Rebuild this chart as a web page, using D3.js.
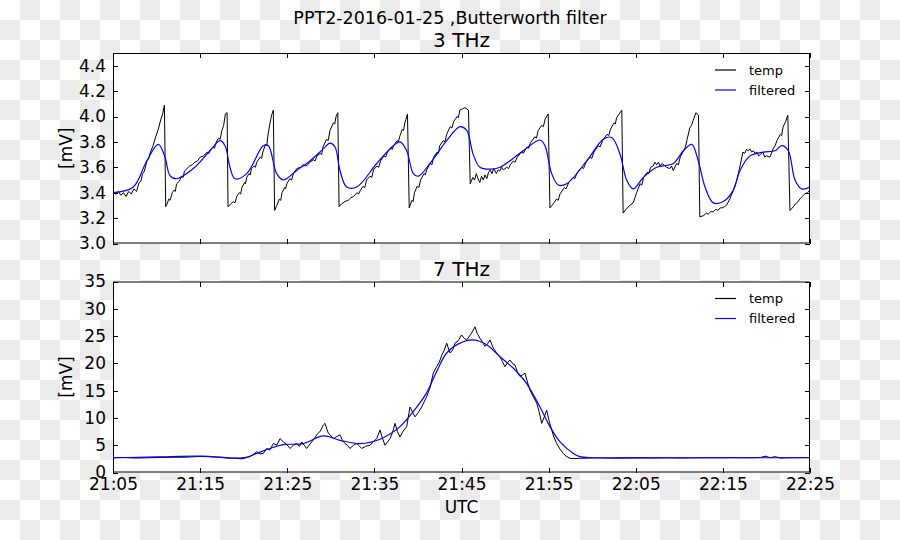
<!DOCTYPE html>
<html lang="en">
<head>
<meta charset="utf-8">
<title>PPT2 Butterworth</title>
<script src="https://cdnjs.cloudflare.com/ajax/libs/d3/7.8.5/d3.min.js"></script>
<style>
body { margin: 0; }
svg { display: block; font-family: "DejaVu Sans", sans-serif; }
.axis text { font-size: 17px; fill: #000; font-family: "DejaVu Sans", sans-serif; }
.axis line { stroke: #000; shape-rendering: crispEdges; }
</style>
</head>
<body>
<script>
var w = 900, h = 540;

// x tick labels (UTC), y ticks per panel
var xTickLabels = ["21:05", "21:15", "21:25", "21:35", "21:45", "21:55", "22:05", "22:15", "22:25"];
var yTicksTop = [3.0, 3.2, 3.4, 3.6, 3.8, 4.0, 4.2, 4.4];
var yTicksBottom = [0, 5, 10, 15, 20, 25, 30, 35];

// time in minutes after 21:00 UTC, value in mV
var temp3 = [
 [5.0,3.40],[5.3,3.39],[5.6,3.41],[5.9,3.38],[6.2,3.40],[6.5,3.37],[6.8,3.41],[7.1,3.39],[7.4,3.43],[7.7,3.41],
 [8.0,3.48],[8.2,3.49],[8.4,3.55],[8.6,3.57],[8.9,3.65],[9.1,3.67],[9.3,3.72],[9.6,3.77],[9.9,3.84],[10.2,3.90],
 [10.5,3.98],[10.7,4.02],[10.9,4.09],[11.05,3.29],[11.2,3.31],[11.4,3.35],[11.55,3.34],[11.8,3.40],[12.0,3.42],[12.15,3.41],
 [12.3,3.47],[12.6,3.49],[12.9,3.53],[13.05,3.52],[13.2,3.57],[13.5,3.59],[13.8,3.61],[14.1,3.62],[14.4,3.64],[14.7,3.65],
 [15.0,3.68],[15.4,3.69],[15.8,3.72],[16.0,3.71],[16.2,3.74],[16.5,3.76],[16.65,3.75],[16.8,3.79],[17.1,3.83],[17.3,3.82],
 [17.5,3.89],[17.7,3.93],[17.9,4.02],[18.1,4.03],[18.2,3.29],
 [18.5,3.31],[18.8,3.33],[19.0,3.32],[19.2,3.37],[19.5,3.40],[19.65,3.39],[19.8,3.44],[20.1,3.48],[20.2,3.47],[20.35,3.52],
 [20.6,3.55],[20.75,3.54],[20.9,3.59],[21.2,3.61],[21.35,3.60],[21.5,3.64],[21.9,3.68],[22.05,3.67],[22.2,3.72],[22.5,3.78],
 [22.65,3.77],[22.8,3.86],[23.0,3.94],[23.2,4.01],[23.4,4.05],[23.55,3.26],
 [23.8,3.30],[24.1,3.35],[24.25,3.34],[24.4,3.40],[24.7,3.44],[24.8,3.43],[24.95,3.47],[25.3,3.51],[25.5,3.50],[25.7,3.55],
 [26.1,3.59],[26.5,3.60],[26.8,3.62],[27.2,3.61],[27.6,3.64],[28.0,3.66],[28.2,3.65],[28.4,3.69],[28.8,3.71],[28.95,3.70],
 [29.1,3.76],[29.5,3.82],[29.7,3.81],[29.9,3.89],[30.3,3.95],[30.45,3.94],[30.6,4.00],[30.8,4.03],[30.95,3.29],
 [31.2,3.31],[31.6,3.33],[32.0,3.34],[32.3,3.36],[32.6,3.37],[33.0,3.40],[33.2,3.39],[33.4,3.42],[33.7,3.45],[33.9,3.44],
 [34.1,3.50],[34.5,3.53],[34.7,3.52],[34.9,3.58],[35.3,3.61],[35.5,3.60],[35.7,3.65],[36.1,3.69],[36.3,3.68],[36.5,3.72],
 [36.9,3.75],[37.05,3.74],[37.2,3.77],[37.6,3.81],[37.75,3.80],[37.9,3.84],[38.2,3.90],[38.35,3.89],[38.5,3.95],[38.8,4.02],
 [39.0,3.28],[39.3,3.34],[39.45,3.33],[39.6,3.40],[39.9,3.45],[40.1,3.44],[40.3,3.50],[40.7,3.55],[40.85,3.54],[41.0,3.58],
 [41.4,3.63],[41.6,3.62],[41.8,3.68],[42.2,3.72],[42.35,3.71],[42.5,3.77],[42.9,3.81],[43.1,3.80],[43.3,3.86],[43.7,3.92],
 [43.9,3.91],[44.1,3.96],[44.5,4.00],[44.65,3.99],[44.8,4.05],[45.1,4.06],[45.4,4.07],[45.8,4.05],[46.0,3.47],[46.3,3.52],
 [46.5,3.50],[46.7,3.55],[46.9,3.51],[47.1,3.48],[47.3,3.53],[47.5,3.50],[47.7,3.54],[47.9,3.51],[48.1,3.56],[48.3,3.58],
 [48.5,3.55],[48.7,3.59],[49.0,3.55],[49.2,3.58],[49.4,3.57],[49.6,3.60],[49.8,3.58],[50.2,3.60],[50.4,3.59],[50.6,3.62],
 [50.95,3.65],[51.15,3.64],[51.4,3.68],[51.9,3.72],[52.1,3.71],[52.5,3.76],[52.7,3.75],[52.9,3.79],[53.4,3.84],[53.6,3.83],
 [53.8,3.89],[54.2,3.93],[54.4,3.92],[54.6,3.98],[54.95,4.02],[55.15,3.28],
 [55.5,3.31],[55.9,3.35],[56.1,3.34],[56.3,3.39],[56.8,3.44],[57.0,3.43],[57.3,3.48],[57.8,3.52],[58.0,3.51],[58.3,3.56],
 [58.8,3.60],[59.0,3.59],[59.3,3.64],[59.75,3.68],[59.95,3.67],[60.2,3.72],[60.7,3.77],[60.9,3.76],[61.2,3.81],[61.7,3.86],
 [61.9,3.85],[62.1,3.90],[62.5,3.95],[62.65,3.94],[62.8,3.99],[63.1,4.02],[63.4,4.05],[63.55,3.24],
 [63.9,3.27],[64.3,3.30],[64.7,3.32],[64.9,3.36],[65.1,3.40],[65.5,3.47],[65.7,3.46],[65.9,3.52],[66.3,3.56],[66.5,3.55],
 [66.7,3.60],[67.0,3.61],[67.2,3.64],[67.4,3.62],[67.6,3.64],[67.8,3.61],[68.0,3.63],[68.2,3.62],[68.55,3.60],[68.9,3.59],
 [69.1,3.61],[69.3,3.575],[69.7,3.63],[69.9,3.62],[70.1,3.68],[70.5,3.73],[70.7,3.76],[70.9,3.82],[71.2,3.91],[71.4,3.93],
 [71.6,3.97],[71.9,4.03],[72.2,4.01],[72.35,3.21],
 [72.8,3.22],[73.1,3.24],[73.3,3.23],[73.6,3.25],[73.9,3.25],[74.2,3.27],[74.4,3.26],[74.7,3.28],[74.9,3.28],[75.2,3.29],
 [75.4,3.30],[75.8,3.35],[76.2,3.42],[76.6,3.50],[77.0,3.62],[77.3,3.72],[77.5,3.71],[77.7,3.74],[77.9,3.73],[78.1,3.745],
 [78.3,3.72],[78.5,3.73],[78.7,3.71],[78.9,3.72],[79.1,3.69],[79.3,3.70],[79.6,3.72],[79.8,3.68],[80.0,3.69],[80.4,3.68],
 [80.8,3.75],[81.0,3.77],[81.2,3.81],[81.6,3.86],[81.75,3.85],[81.9,3.915],[82.2,3.96],[82.45,4.01],[82.7,3.26],
 [83.1,3.29],[83.3,3.31],[83.5,3.32],[83.9,3.355],[84.1,3.37],[84.4,3.39],[84.7,3.40],[85.0,3.42]
];

var filt3 = [
 [5.0,3.40],[7.33,3.445],[8.87,3.65],[10.2,3.78],[10.97,3.68],[11.54,3.535],[12.31,3.51],[14.22,3.59],[16.13,3.73],
 [17.28,3.81],[17.86,3.77],[18.43,3.60],[19.0,3.51],[20.35,3.55],[22.25,3.77],[22.83,3.77],[23.79,3.55],[24.55,3.50],
 [26.08,3.575],[27.61,3.65],[29.14,3.745],[29.91,3.79],[30.48,3.76],[31.05,3.575],[31.82,3.445],[32.97,3.445],
 [35.27,3.63],[37.17,3.77],[37.94,3.80],[38.71,3.73],[39.47,3.55],[40.04,3.53],[41.38,3.63],[43.3,3.81],[44.83,3.92],
 [45.6,3.89],[46.35,3.70],[47.12,3.60],[48.27,3.585],[49.42,3.60],[52.09,3.73],[54.01,3.815],[54.58,3.77],[55.35,3.55],
 [56.11,3.46],[57.07,3.47],[59.37,3.65],[61.28,3.82],[62.24,3.835],[63.19,3.705],[63.96,3.50],[64.72,3.43],[65.87,3.52],
 [67.4,3.60],[69.31,3.63],[70.46,3.73],[71.42,3.78],[72.18,3.65],[72.95,3.445],[73.9,3.32],[75.05,3.33],[76.2,3.42],
 [76.97,3.575],[78.11,3.69],[79.64,3.72],[80.98,3.73],[81.75,3.77],[82.51,3.73],[83.28,3.50],[84.05,3.43],[85.0,3.445]
];

var temp7 = [
 [5.0,2.7],[6.2,2.75],[7.5,2.65],[9.0,2.7],[10.4,2.75],[11.8,2.8],[13.3,2.8],[15.0,2.95],[16.7,2.85],[18.4,2.6],
 [19.6,2.65],[20.7,2.9],[21.1,3.3],[21.5,3.8],[21.9,3.4],[22.25,3.5],[22.64,4.4],[23.0,4.1],[23.4,5.3],[23.8,5.0],
 [24.17,6.2],[24.55,5.6],[24.9,5.2],[25.32,4.4],[25.7,5.0],[26.08,5.3],[26.4,4.8],[26.66,5.6],[26.95,5.0],[27.23,4.4],
 [27.5,5.0],[27.81,5.6],[28.1,6.2],[28.38,6.9],[28.8,7.6],[29.14,8.7],[29.33,9.0],[29.71,7.2],[30.0,6.8],[30.29,6.2],
 [30.7,6.6],[31.05,6.9],[31.3,6.0],[31.63,5.3],[31.9,5.0],[32.2,4.4],[32.6,5.0],[32.97,5.3],[33.25,4.9],[33.55,4.4],
 [34.0,4.8],[34.5,5.0],[34.9,5.7],[35.27,6.2],[35.65,7.8],[35.9,6.4],[36.22,5.0],[36.5,5.6],[36.79,6.2],[37.1,7.4],
 [37.37,9.0],[37.65,7.5],[37.94,6.5],[38.3,7.6],[38.71,8.4],[39.09,12.0],[39.4,11.0],[39.66,10.2],[40.0,10.9],[40.43,12.0],
 [41.0,13.9],[41.4,15.6],[41.76,18.2],[42.15,19.4],[42.45,20.2],[42.73,21.5],[43.0,22.3],[43.3,23.7],[43.68,21.9],[44.0,22.5],
 [44.25,23.7],[44.6,24.1],[45.02,25.2],[45.3,24.6],[45.6,24.3],[46.1,25.4],[46.55,26.7],[46.8,25.5],[47.12,24.6],[47.4,23.9],
 [47.7,23.1],[48.0,23.6],[48.27,24.3],[48.65,22.8],[49.0,22.0],[49.42,21.2],[49.7,20.3],[49.99,19.4],[50.3,20.2],[50.57,20.6],
 [50.85,20.0],[51.14,19.7],[51.4,18.5],[51.71,17.6],[52.0,17.9],[52.29,18.2],[52.6,16.4],[52.86,15.1],[53.2,14.0],[53.63,12.7],
 [53.9,11.2],[54.21,9.0],[54.5,10.2],[54.78,11.4],[55.05,9.5],[55.35,7.8],[55.6,6.5],[55.93,5.3],[56.3,4.3],[56.68,3.5],
 [57.0,3.0],[57.45,2.6],[58.0,2.55],[58.6,2.6],[59.6,2.65],[60.9,2.7],[62.5,2.68],[64.0,2.72],[65.5,2.7],[67.0,2.68],
 [68.5,2.7],[70.1,2.65],[71.5,2.68],[73.0,2.7],[74.7,2.7],[76.2,2.72],[77.8,2.7],[79.3,2.75],[79.95,3.0],[80.4,2.7],
 [81.0,2.9],[81.6,2.65],[82.5,2.7],[83.5,2.72],[85.0,2.75]
];

var filt7 = [
 [5.0,2.7],[10.0,2.85],[15.0,3.0],[18.4,2.7],[20.0,2.6],[21.49,3.5],[23.0,4.4],[24.55,5.1],[26.85,5.3],[29.14,6.7],
 [31.05,5.9],[33.35,5.3],[35.65,6.1],[37.94,8.4],[39.86,12.0],[41.0,14.6],[42.15,18.5],[43.3,21.9],[44.83,23.7],[46.35,24.3],
 [47.89,23.4],[49.42,21.2],[50.95,19.1],[52.48,16.3],[54.01,12.0],[55.16,8.4],[56.31,5.6],[57.83,3.5],[58.6,2.9],[60.0,2.7],
 [70.0,2.7],[85.0,2.7]
];

var minutes = function(s) { var p = s.split(":"); return (+p[0] - 21) * 60 + (+p[1]); };
var xTicks = xTickLabels.map(minutes);

var left = 113, right = 810;
var x = d3.scaleLinear().domain([minutes("21:05"), minutes("22:25")]).range([left, right]);

var svg = d3.select("body").append("svg").attr("width", w).attr("height", h);

// transparent-looking checkerboard background
var defs = svg.append("defs");
var pat = defs.append("pattern").attr("id", "checker").attr("width", 40).attr("height", 40)
  .attr("patternUnits", "userSpaceOnUse");
pat.append("rect").attr("width", 40).attr("height", 40).attr("fill", "#fff");
pat.append("rect").attr("x", 20).attr("y", 0).attr("width", 20).attr("height", 20).attr("fill", "#ebebeb");
pat.append("rect").attr("x", 0).attr("y", 20).attr("width", 20).attr("height", 20).attr("fill", "#ebebeb");
svg.append("rect").attr("width", w).attr("height", h).attr("fill", "url(#checker)");

svg.append("text").attr("x", 450).attr("y", 24).attr("text-anchor", "middle")
  .style("font-size", "17.5px").text("PPT2-2016-01-25 ,Butterworth filter");

function panel(top, bottom, domain, ticks, fmt, title, tempData, filtData, showX) {
  var y = d3.scaleLinear().domain(domain).range([bottom, top]);
  var g = svg.append("g");
  g.append("rect").attr("x", left).attr("y", top).attr("width", right - left).attr("height", bottom - top)
    .attr("fill", "#fff");

  var clipId = "clip" + Math.round(top);
  defs.append("clipPath").attr("id", clipId).append("rect")
    .attr("x", left).attr("y", top).attr("width", right - left).attr("height", bottom - top);

  var line = d3.line().x(function(d) { return x(d[0]); }).y(function(d) { return y(d[1]); });
  var smooth = d3.line().curve(d3.curveCatmullRom.alpha(0.5))
    .x(function(d) { return x(d[0]); }).y(function(d) { return y(d[1]); });

  g.append("path").datum(tempData).attr("d", line).attr("fill", "none")
    .attr("stroke", "#000").attr("stroke-width", 1).attr("clip-path", "url(#" + clipId + ")");
  g.append("path").datum(filtData).attr("d", smooth).attr("fill", "none")
    .attr("stroke", "#0000ff").attr("stroke-width", 1.2).attr("clip-path", "url(#" + clipId + ")");

  // ticks on all four sides, pointing inwards
  var yl = g.append("g").attr("class", "axis").attr("transform", "translate(" + left + ",0)")
    .call(d3.axisLeft(y).tickValues(ticks).tickFormat(fmt).tickSize(-5).tickPadding(7));
  var yr = g.append("g").attr("class", "axis").attr("transform", "translate(" + right + ",0)")
    .call(d3.axisRight(y).tickValues(ticks).tickFormat("").tickSize(-5));
  var xt = g.append("g").attr("class", "axis").attr("transform", "translate(0," + top + ")")
    .call(d3.axisTop(x).tickValues(xTicks).tickFormat("").tickSize(-5));
  var xb = g.append("g").attr("class", "axis").attr("transform", "translate(0," + bottom + ")")
    .call(d3.axisBottom(x).tickValues(xTicks)
      .tickFormat(function(d, i) { return showX ? xTickLabels[i] : ""; }).tickSize(-5).tickPadding(5));
  [yl, yr, xt, xb].forEach(function(a) {
    a.select(".domain").remove();
    a.attr("font-family", null).attr("font-size", null);
  });

  g.append("rect").attr("x", left + 0.5).attr("y", top + 0.5).attr("width", right - left - 1)
    .attr("height", bottom - top - 1).attr("fill", "none").attr("stroke", "#000").attr("stroke-width", 1);

  g.append("text").attr("x", (left + right) / 2).attr("y", top - 6).attr("text-anchor", "middle")
    .style("font-size", "20px").text(title);

  g.append("text").attr("transform", "translate(66," + ((top + bottom) / 2) + ") rotate(-90)")
    .attr("text-anchor", "middle").attr("dy", "0.35em").style("font-size", "17px").text("[mV]");

  // legend
  var items = [["temp", "#000"], ["filtered", "#0000ff"]];
  items.forEach(function(it, i) {
    var ly = top + 17 + i * 20;
    g.append("line").attr("x1", 715).attr("x2", 736).attr("y1", ly).attr("y2", ly)
      .attr("stroke", it[1]).attr("stroke-width", 1.2);
    g.append("text").attr("x", 749).attr("y", ly).attr("dy", "0.35em").style("font-size", "13px").text(it[0]);
  });
}

panel(53, 243.5, [3.0, 4.5], yTicksTop, d3.format(".1f"), "3 THz", temp3, filt3, false);
panel(281.5, 472.5, [0, 35], yTicksBottom, d3.format("d"), "7 THz", temp7, filt7, true);

svg.append("text").attr("x", (left + right) / 2).attr("y", 513).attr("text-anchor", "middle")
  .style("font-size", "17px").text("UTC");
</script>
</body>
</html>
